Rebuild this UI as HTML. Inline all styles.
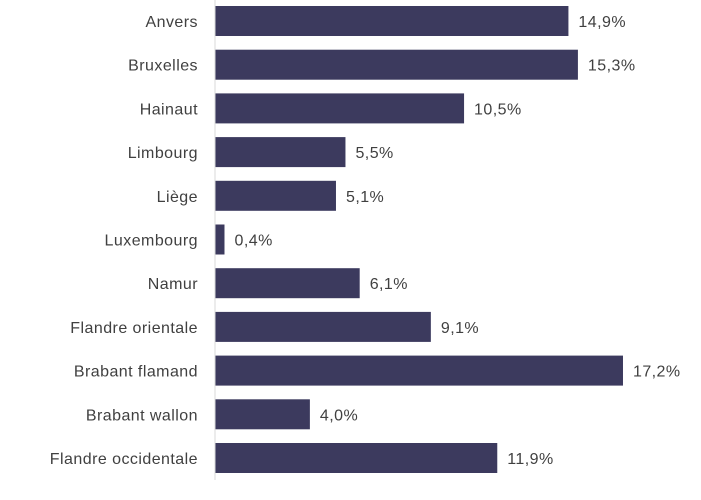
<!DOCTYPE html>
<html><head><meta charset="utf-8"><style>
body{margin:0;background:#fff;width:701px;height:495px;overflow:hidden;font-family:"Liberation Sans",sans-serif;}
svg text{font-family:"Liberation Sans",sans-serif;font-size:16px;letter-spacing:0.45px;fill:#404040;}
</style></head><body>
<svg id="chart" width="701" height="495"></svg>
<script>
const categories=["Anvers","Bruxelles","Hainaut","Limbourg","Liège","Luxembourg","Namur","Flandre orientale","Brabant flamand","Brabant wallon","Flandre occidentale"];
const values=[14.9,15.3,10.5,5.5,5.1,0.4,6.1,9.1,17.2,4.0,11.9];
const svg=document.getElementById('chart');
const NS='http://www.w3.org/2000/svg';
const x0=215, pxPer=23.72, y0=21, step=43.7, bh=30;
const xs=v=>x0+v*pxPer, ys=i=>y0+i*step;
function mk(t,a){const e=document.createElementNS(NS,t);for(const k in a)e.setAttribute(k,a[k]);svg.appendChild(e);return e;}
categories.forEach((c,i)=>{
  const r=mk('rect',{x:x0,y:ys(i)-bh/2,width:xs(values[i])-x0,height:bh,fill:'#3c3a5e'});
  
  
  const l=mk('text',{x:198,y:ys(i)+6,'text-anchor':'end'});l.textContent=c;
  
  
  const v=mk('text',{x:xs(values[i])+10,y:ys(i)+6});v.textContent=values[i].toFixed(1).replace('.',',')+'%';
  
  
});
const ax=mk('line',{x1:x0,x2:x0,y1:0,y2:480,stroke:'#d9d9d9','stroke-width':1});


</script>
</body></html>
